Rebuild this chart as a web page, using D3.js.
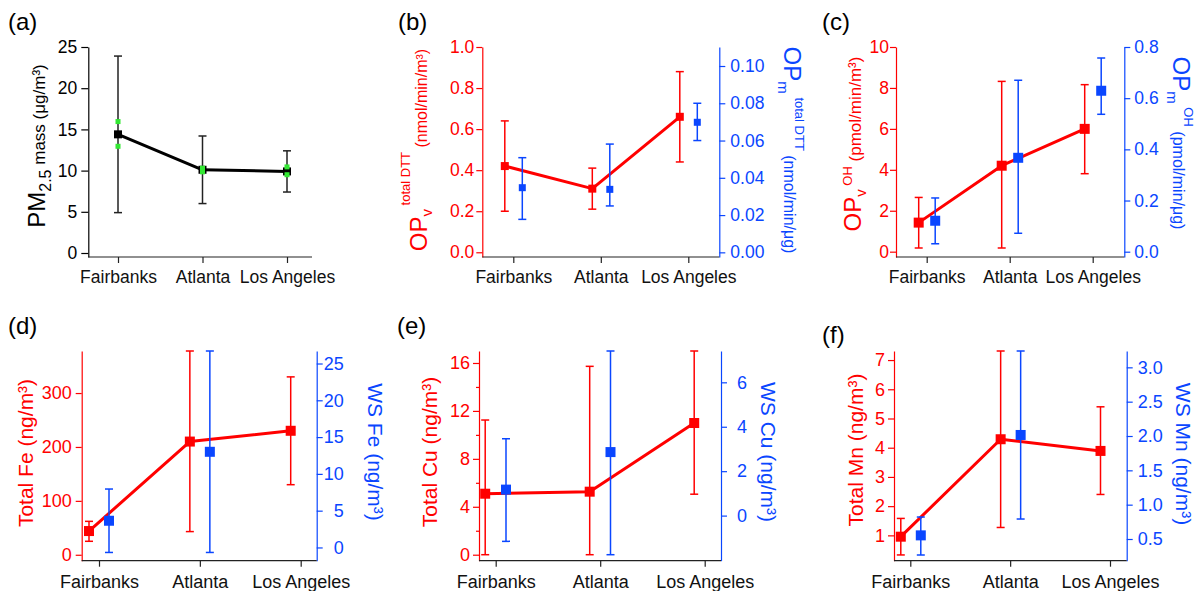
<!DOCTYPE html>
<html><head><meta charset="utf-8">
<script src="https://cdn.jsdelivr.net/npm/d3@7"></script>
<style>body{margin:0;background:#fff}svg{display:block}</style>
</head><body>
<svg id="chart" width="1197" height="591"></svg>
<script>
// ---------- DATA ----------
const categories = ["Fairbanks", "Atlanta", "Los Angeles"];

// (a) PM2.5 mass
const pmMean = [14.4, 10.1, 9.9];
const pmLow = [4.9, 6.0, 7.4];
const pmHigh = [23.9, 14.2, 12.4];
const pmGreenUpper = [15.95, 10.3, 10.45];
const pmGreenLower = [12.95, 9.85, 9.5];
const pmTicks = [0, 5, 10, 15, 20, 25];

// (b) total DTT
const dttVMean = [0.42, 0.31, 0.66];
const dttVLow = [0.20, 0.21, 0.44];
const dttVHigh = [0.64, 0.41, 0.88];
const dttMMean = [0.0347, 0.0338, 0.0698];
const dttMLow = [0.0177, 0.0249, 0.060];
const dttMHigh = [0.0508, 0.0581, 0.080];
const dttVTicks = [0, 0.2, 0.4, 0.6, 0.8, 1.0];
const dttMTicks = [0, 0.02, 0.04, 0.06, 0.08, 0.10];

// (c) OH
const ohVMean = [1.42, 4.2, 6.0];
const ohVLow = [0.18, 0.18, 3.81];
const ohVHigh = [2.65, 8.32, 8.16];
const ohMMean = [0.121, 0.367, 0.629];
const ohMLow = [0.031, 0.072, 0.537];
const ohMHigh = [0.21, 0.670, 0.757];
const ohVTicks = [0, 2, 4, 6, 8, 10];
const ohMTicks = [0, 0.2, 0.4, 0.6, 0.8];

// (d) Fe
const feTotMean = [44, 210, 230];
const feTotLow = [25, 43, 130];
const feTotHigh = [62, 378, 330];
const feWsMean = [3.63, 13.0, null];
const feWsLow = [-0.68, -0.68, null];
const feWsHigh = [7.94, 26.7, null];
const feTotTicks = [0, 100, 200, 300];
const feWsTicks = [0, 5, 10, 15, 20, 25];

// (e) Cu
const cuTotMean = [5.09, 5.26, 10.99];
const cuTotLow = [0, 0, 5.05];
const cuTotHigh = [11.24, 15.72, 17.0];
const cuWsMean = [1.17, 2.86, null];
const cuWsLow = [-1.16, -1.76, null];
const cuWsHigh = [3.46, 7.41, null];
const cuTotTicks = [0, 4, 8, 12, 16];
const cuTotMinor = [2, 6, 10, 14];
const cuWsTicks = [0, 2, 4, 6];

// (f) Mn
const mnTotMean = [0.955, 4.29, 3.89];
const mnTotLow = [0.33, 1.27, 2.40];
const mnTotHigh = [1.58, 7.31, 5.40];
const mnWsMean = [0.553, 2.015, null];
const mnWsLow = [0.267, 0.791, null];
const mnWsHigh = [0.82, 3.238, null];
const mnTotTicks = [1, 2, 3, 4, 5, 6, 7];
const mnWsTicks = [0.5, 1.0, 1.5, 2.0, 2.5, 3.0];

// ---------- STYLE ----------
const RED = "#ff0000", BLUE = "#0a46ff", BLACK = "#000";
const FONT = "Arial, 'Liberation Sans', Helvetica, sans-serif";
const svg = d3.select("#chart");

function series(mean, low, high, color, side, offset, size, line, errColor) {
  return {mean, low, high, color, side, offset, size, line, errColor: errColor || color};
}

const panels = [
  { tag: "(a)", tagX: 8, tagY: 30,
    left: 88.3, right: 312, c0: 118, c2: 287, top: 47, bot: 257,
    lDom: [-0.485, 25], lTicks: pmTicks, lFmt: d3.format("d"), lColor: BLACK, lTick: 7, lPad: 4,
    series: [series(pmMean, pmLow, pmHigh, BLACK, "L", 0, 8, true, "#222")],
    green: true,
    lLabel: {x: 45, y: 146, rot: -90, color: BLACK,
      parts: [{t: "PM", s: 24, sh: 0}, {t: "2.5", s: 16, sh: 6}, {t: " mass (μg/m³)", s: 17, sh: 0}]},
    fs: 17.5, bPad: 8 },
  { tag: "(b)", tagX: 398, tagY: 30,
    left: 482.3, right: 719.3, c0: 513.3, c2: 688.3, top: 47, bot: 257,
    lDom: [-0.023, 1.0], lTicks: dttVTicks, lFmt: d3.format(".1f"), lColor: RED, lTick: 6, lPad: 2,
    rDom: [-0.0025, 0.1102], rTicks: dttMTicks, rFmt: d3.format(".2f"), rColor: BLUE, rPad: 5,
    series: [series(dttVMean, dttVLow, dttVHigh, RED, "L", -8.5, 8, true),
             series(dttMMean, dttMLow, dttMHigh, BLUE, "R", 9, 7, false)],
    lLabel: {x: 427, y: 150, rot: -90, color: RED,
      parts: [{t: "OP", s: 24, sh: 0}, {t: "v", s: 15, sh: 5}, {t: " total DTT", s: 13, sh: -17}, {t: " (nmol/min/m³)", s: 16, sh: 0}]},
    rLabel: {x: 784, y: 150, rot: 90, color: BLUE,
      parts: [{t: "OP", s: 24, sh: 0}, {t: "m", s: 15, sh: 6}, {t: " total DTT", s: 13, sh: -11}, {t: " (nmol/min/μg)", s: 16, sh: 0}]},
    fs: 17.5, bPad: 8 },
  { tag: "(c)", tagX: 822, tagY: 30,
    left: 896, right: 1124.3, c0: 926.7, c2: 1092.7, top: 47, bot: 257,
    lDom: [-0.26, 10], lTicks: ohVTicks, lFmt: d3.format("d"), lColor: RED, lTick: 6, lPad: 1,
    rDom: [-0.0207, 0.8], rTicks: ohMTicks, rFmt: d3.format(".1f"), rColor: BLUE, rPad: 4,
    series: [series(ohVMean, ohVLow, ohVHigh, RED, "L", -8, 10, true),
             series(ohMMean, ohMLow, ohMHigh, BLUE, "R", 8.5, 10, false)],
    lLabel: {x: 861, y: 144, rot: -90, color: RED,
      parts: [{t: "OP", s: 24, sh: 0}, {t: "v", s: 15, sh: 5}, {t: " OH", s: 13, sh: -9}, {t: " (pmol/min/m³)", s: 17, sh: 0}]},
    rLabel: {x: 1173, y: 143, rot: 90, color: BLUE,
      parts: [{t: "OP", s: 24, sh: 0}, {t: "m", s: 15, sh: 6}, {t: " OH", s: 13, sh: -11}, {t: " (pmol/min/μg)", s: 16, sh: 0}]},
    fs: 17.5, bPad: 8 },
  { tag: "(d)", tagX: 8, tagY: 334,
    left: 81.7, right: 316.7, c0: 99, c2: 300.7, top: 351, bot: 560.7,
    lDom: [-11, 378], lTicks: feTotTicks, lFmt: d3.format("d"), lColor: RED, lTick: 6, lPad: 4,
    rDom: [-1.8, 26.7], rTicks: feWsTicks, rFmt: d3.format("d"), rColor: BLUE, rPad: 5, rAnchorEnd: 27,
    series: [series(feTotMean, feTotLow, feTotHigh, RED, "L", -10, 10, true),
             series(feWsMean, feWsLow, feWsHigh, BLUE, "R", 10, 10, false)],
    lLabel: {x: 33, y: 453, rot: -90, color: RED, parts: [{t: "Total Fe (ng/m³)", s: 21, sh: 0}]},
    rLabel: {x: 368, y: 452, rot: 90, color: BLUE, parts: [{t: "WS Fe (ng/m³)", s: 21, sh: 0}]},
    fs: 18, bPad: 9 },
  { tag: "(e)", tagX: 397, tagY: 334,
    left: 479, right: 721, c0: 495.7, c2: 704.7, top: 351, bot: 560.7,
    lDom: [-0.5, 17.0], lTicks: cuTotTicks, lMinor: cuTotMinor, lFmt: d3.format("d"), lColor: RED, lTick: 6, lPad: 3,
    rDom: [-2.03, 7.41], rTicks: cuWsTicks, rFmt: d3.format("d"), rColor: BLUE, rPad: 10,
    series: [series(cuTotMean, cuTotLow, cuTotHigh, RED, "L", -10.5, 10, true),
             series(cuWsMean, cuWsLow, cuWsHigh, BLUE, "R", 10.3, 10, false)],
    lLabel: {x: 437, y: 452, rot: -90, color: RED, parts: [{t: "Total Cu (ng/m³)", s: 21, sh: 0}]},
    rLabel: {x: 761, y: 452, rot: 90, color: BLUE, parts: [{t: "WS Cu (ng/m³)", s: 21, sh: 0}]},
    fs: 18, bPad: 9 },
  { tag: "(f)", tagX: 822, tagY: 343,
    left: 894, right: 1126.7, c0: 910.3, c2: 1110, top: 351, bot: 560.7,
    lDom: [0.133, 7.31], lTicks: mnTotTicks, lFmt: d3.format("d"), lColor: RED, lTick: 6, lPad: 3,
    rDom: [0.184, 3.238], rTicks: mnWsTicks, rFmt: d3.format(".1f"), rColor: BLUE, rPad: 5,
    series: [series(mnTotMean, mnTotLow, mnTotHigh, RED, "L", -9.5, 10, true),
             series(mnWsMean, mnWsLow, mnWsHigh, BLUE, "R", 10.5, 10, false)],
    lLabel: {x: 863, y: 450, rot: -90, color: RED, parts: [{t: "Total Mn (ng/m³)", s: 21, sh: 0}]},
    rLabel: {x: 1176, y: 454, rot: 90, color: BLUE, parts: [{t: "WS Mn (ng/m³)", s: 21, sh: 0}]},
    fs: 18, bPad: 9 }
];

function styleAxis(g, color, fs) {
  g.attr("font-family", FONT).attr("font-size", fs);
  g.selectAll("path, line").attr("stroke", color).attr("stroke-width", 1.2);
  g.selectAll("text").attr("fill", color);
}

function rotLabel(L) {
  const t = svg.append("text")
    .attr("transform", `translate(${L.x},${L.y}) rotate(${L.rot})`)
    .attr("text-anchor", "middle").attr("font-family", FONT).attr("fill", L.color);
  let prev = 0;
  L.parts.forEach(p => {
    t.append("tspan").attr("font-size", p.s).attr("dy", p.sh - prev).text(p.t);
    prev = p.sh;
  });
}

panels.forEach(p => {
  const x = d3.scalePoint().domain(categories).range([p.c0, p.c2]);
  const yL = d3.scaleLinear().domain(p.lDom).range([p.bot, p.top]);
  const yR = p.rDom ? d3.scaleLinear().domain(p.rDom).range([p.bot, p.top]) : null;

  // left axis
  const gL = svg.append("g").attr("transform", `translate(${p.left},0)`)
    .call(d3.axisLeft(yL).tickValues(p.lTicks).tickFormat(p.lFmt)
      .tickSize(p.lTick).tickSizeOuter(0).tickPadding(p.lPad));
  styleAxis(gL, p.lColor, p.fs);
  if (p.lMinor) {
    const gm = svg.append("g").attr("transform", `translate(${p.left},0)`)
      .call(d3.axisLeft(yL).tickValues(p.lMinor).tickFormat("").tickSize(3).tickSizeOuter(0));
    gm.select(".domain").remove();
    styleAxis(gm, p.lColor, p.fs);
  }
  // right axis
  if (yR) {
    const gR = svg.append("g").attr("transform", `translate(${p.right},0)`)
      .call(d3.axisRight(yR).tickValues(p.rTicks).tickFormat(p.rFmt)
        .tickSize(6).tickSizeOuter(0).tickPadding(p.rPad));
    styleAxis(gR, p.rColor, p.fs);
    if (p.rAnchorEnd) gR.selectAll("text").attr("text-anchor", "end").attr("x", p.rAnchorEnd);
  }
  // bottom axis
  svg.append("line").attr("x1", p.left).attr("x2", p.right).attr("y1", p.bot).attr("y2", p.bot)
    .attr("stroke", "#222").attr("stroke-width", 1.2);
  const gB = svg.append("g").attr("transform", `translate(0,${p.bot})`)
    .call(d3.axisBottom(x).tickSize(6).tickPadding(p.bPad));
  gB.select(".domain").remove();
  styleAxis(gB, "#111", p.fs);
  gB.selectAll("line").attr("stroke", "#222");

  // series
  p.series.forEach(s => {
    const y = s.side === "L" ? yL : yR;
    const pts = categories.map((c, i) => ({c, m: s.mean[i], lo: s.low[i], hi: s.high[i]}))
      .filter(d => d.m !== null);
    const cx = d => x(d.c) + s.offset;
    const g = svg.append("g");
    if (s.line) {
      g.append("path").datum(pts)
        .attr("d", d3.line().x(cx).y(d => y(d.m)))
        .attr("fill", "none").attr("stroke", s.color).attr("stroke-width", 3)
        .attr("stroke-linejoin", "round");
    }
    const eb = g.selectAll(".eb").data(pts).enter().append("g");
    eb.append("line").attr("x1", cx).attr("x2", cx).attr("y1", d => y(d.lo)).attr("y2", d => y(d.hi))
      .attr("stroke", s.errColor).attr("stroke-width", 1.5);
    ["lo", "hi"].forEach(k => {
      eb.append("line").attr("x1", d => cx(d) - 4).attr("x2", d => cx(d) + 4)
        .attr("y1", d => y(d[k])).attr("y2", d => y(d[k]))
        .attr("stroke", s.errColor).attr("stroke-width", 1.5);
    });
    g.selectAll(".mk").data(pts).enter().append("rect")
      .attr("x", d => cx(d) - s.size / 2).attr("y", d => y(d.m) - s.size / 2)
      .attr("width", s.size).attr("height", s.size).attr("fill", s.color);
  });

  if (p.green) {
    [pmGreenUpper, pmGreenLower].forEach(arr => {
      svg.append("g").selectAll("rect").data(arr).enter().append("rect")
        .attr("x", (d, i) => x(categories[i]) - 2.5).attr("y", d => yL(d) - 2.5)
        .attr("width", 5).attr("height", 5).attr("fill", "#33e833");
    });
  }

  rotLabel(p.lLabel);
  if (p.rLabel) rotLabel(p.rLabel);

  svg.append("text").attr("x", p.tagX).attr("y", p.tagY).attr("font-family", FONT)
    .attr("font-size", 24).attr("fill", "#000").text(p.tag);
});
</script>
</body></html>
